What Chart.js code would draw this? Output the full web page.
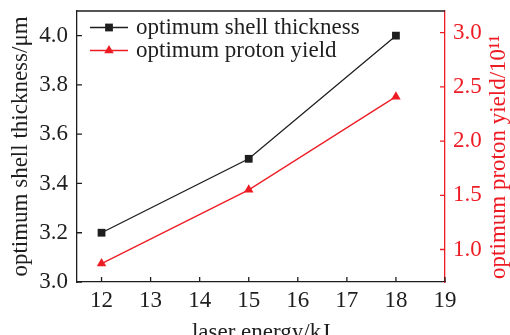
<!DOCTYPE html>
<html>
<head>
<meta charset="utf-8">
<script src="https://cdn.jsdelivr.net/npm/chart.js@4"></script>
<style>
  html, body { margin: 0; padding: 0; background: #fff; }
  #wrap { width: 510px; height: 335px; }
</style>
</head>
<body>
<div id="wrap"><canvas id="chart"></canvas></div>
<script>
const energy = [12, 15, 18];
const shellThickness = [3.2, 3.5, 4.0];
const protonYield = [0.87, 1.55, 2.41];
const xTicks = [12, 13, 14, 15, 16, 17, 18, 19];
const leftTicks = [3.0, 3.2, 3.4, 3.6, 3.8, 4.0];
const rightTicks = [1.0, 1.5, 2.0, 2.5, 3.0];
const seriesNames = ["optimum shell thickness", "optimum proton yield"];

const BLACK = "#1e1e1e";
const RED = "rgb(237, 28, 36)";
const FONT = "'Liberation Serif', 'Times New Roman', serif";
Chart.defaults.font.family = FONT;
Chart.defaults.font.size = 23;
Chart.defaults.color = BLACK;

const setTicks = (list) => (scale) => {
  scale.ticks = list.map((v) => ({ value: v }));
};

//fixed axis box sizes so the plot area sits where the original one does
const fixSize = (w, h) => (s) => {
  if (w) s.width = w;
  if (h) s.height = h;
  s.paddingTop = 0;
  s.paddingBottom = 0;
  s.paddingLeft = 0;
  s.paddingRight = 0;
};

//box top line, inner tick marks and the right title
const frame = {
  id: "frame",
  afterDraw(chart) {
    const { ctx, chartArea: a, scales } = chart;
    const len = 5;
    ctx.save();
    ctx.lineWidth = 1.3;
    ctx.strokeStyle = BLACK;
    ctx.beginPath();
    ctx.moveTo(a.left, a.top);
    ctx.lineTo(a.right, a.top);
    scales.x.ticks.forEach((t) => {
      const px = scales.x.getPixelForValue(t.value);
      ctx.moveTo(px, a.bottom);
      ctx.lineTo(px, a.bottom - len);
    });
    scales.y.ticks.forEach((t) => {
      const py = scales.y.getPixelForValue(t.value);
      ctx.moveTo(a.left, py);
      ctx.lineTo(a.left + len, py);
    });
    ctx.stroke();
    ctx.strokeStyle = RED;
    ctx.beginPath();
    scales.y1.ticks.forEach((t) => {
      const py = scales.y1.getPixelForValue(t.value);
      ctx.moveTo(a.right, py);
      ctx.lineTo(a.right - len, py);
    });
    ctx.stroke();

    ctx.translate(499, 157);
    ctx.rotate(-Math.PI / 2);
    ctx.font = "23px " + FONT;
    ctx.fillStyle = RED;
    ctx.textAlign = "center";
    ctx.textBaseline = "middle";
    ctx.fillText("optimum proton yield/10\u00b9\u00b9", 0, 0);
    ctx.restore();
  },
};

//legend inside the plot, line with marker like the original
const legendBox = {
  id: "legendBox",
  afterDraw(chart) {
    const ctx = chart.ctx;
    ctx.save();
    chart.data.datasets.forEach((ds, i) => {
      const y = 27.5 + i * 23;
      ctx.strokeStyle = ds.borderColor;
      ctx.lineWidth = ds.borderWidth;
      ctx.beginPath();
      ctx.moveTo(90, y);
      ctx.lineTo(128, y);
      ctx.stroke();
      ctx.fillStyle = ds.pointBackgroundColor;
      Chart.helpers.drawPoint(ctx, { pointStyle: ds.pointStyle, radius: ds.pointRadius, rotation: 0, borderWidth: 0 }, 109, y);
      ctx.fillStyle = BLACK;
      ctx.font = "23px " + FONT;
      ctx.textBaseline = "middle";
      ctx.fillText(ds.label, 136, y);
    });
    ctx.restore();
  },
};

const canvas = document.querySelector("#chart");
new Chart(canvas, {
  type: "line",
  data: {
    datasets: [
      {
        label: seriesNames[0],
        data: energy.map((x, i) => ({ x, y: shellThickness[i] })),
        yAxisID: "y",
        borderColor: BLACK,
        borderWidth: 1.3,
        pointStyle: "rect",
        pointRadius: 5.5,
        pointBorderWidth: 0,
        pointBackgroundColor: BLACK,
      },
      {
        label: seriesNames[1],
        data: energy.map((x, i) => ({ x, y: protonYield[i] })),
        yAxisID: "y1",
        borderColor: RED,
        borderWidth: 1.3,
        pointStyle: "triangle",
        pointRadius: 5.5,
        pointBorderWidth: 0,
        pointBackgroundColor: RED,
      },
    ],
  },
  options: {
    responsive: true,
    maintainAspectRatio: false,
    animation: false,
    layout: { padding: { top: 11, left: 0, right: 0, bottom: 0 } },
    plugins: {
      legend: { display: false },
      tooltip: { enabled: false },
    },
    scales: {
      x: {
        type: "linear",
        min: 11.5,
        max: 19,
        afterBuildTicks: setTicks(xTicks),
        afterFit: fixSize(0, 53),
        grid: { display: false, drawTicks: false },
        border: { color: BLACK, width: 1.3 },
        ticks: { padding: 5, color: BLACK },
        title: { display: true, text: "laser energy/kJ", color: BLACK, padding: { top: 0, bottom: -12 } },
      },
      y: {
        type: "linear",
        position: "left",
        min: 3.0,
        max: 4.1,
        afterBuildTicks: setTicks(leftTicks),
        afterFit: fixSize(77, 0),
        grid: { display: false, drawTicks: false },
        border: { color: BLACK, width: 1.3 },
        ticks: { padding: 9, color: BLACK, callback: (v) => v.toFixed(1) },
        title: { display: true, text: "optimum shell thickness/\u03bcm", color: BLACK, padding: { top: 7, bottom: 0 } },
      },
      y1: {
        type: "linear",
        position: "right",
        min: 0.7,
        max: 3.2,
        afterBuildTicks: setTicks(rightTicks),
        afterFit: fixSize(65, 0),
        grid: { display: false, drawTicks: false },
        border: { color: RED, width: 1.3 },
        ticks: { padding: 8, color: RED, callback: (v) => v.toFixed(1) },
      },
    },
  },
  plugins: [frame, legendBox],
});
</script>
</body>
</html>
